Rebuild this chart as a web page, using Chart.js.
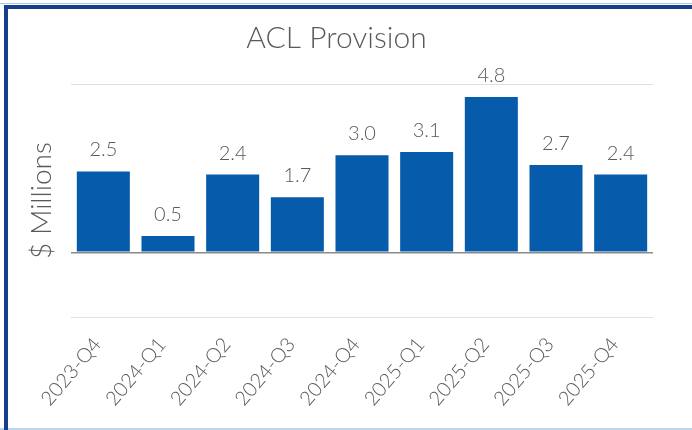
<!DOCTYPE html>
<html>
<head>
<meta charset="utf-8">
<title>ACL Provision</title>
<script src="https://cdn.jsdelivr.net/npm/chart.js@4.4.1/dist/chart.umd.min.js"></script>
<style>
  html, body { margin: 0; padding: 0; background: #fff; }
  #wrap { position: relative; width: 692px; height: 430px; overflow: hidden; }
  /* light outer edge plus the navy frame on the left and top */
  #edge { position: absolute; left: 0; top: 3px; width: 692px; height: 424px;
          border-top: 1px solid #a9cbe9; border-bottom: 2px solid #b8d6ee; }
  #frame { position: absolute; left: 4px; top: 5px; width: 700px; height: 440px;
           border-left: 4px solid #153f8c; border-top: 4px solid #153f8c; }
  canvas { position: absolute; left: 0; top: 0; }
</style>
</head>
<body>
<div id="wrap">
  <div id="edge"></div>
  <div id="frame"></div>
  <canvas id="aclChart" width="692" height="430"></canvas>
</div>
<script>
// Quarterly ACL provision, $ millions
const quarters = ['2023-Q4', '2024-Q1', '2024-Q2', '2024-Q3', '2024-Q4', '2025-Q1', '2025-Q2', '2025-Q3', '2025-Q4'];
const provision = [2.5, 0.5, 2.4, 1.7, 3.0, 3.1, 4.8, 2.7, 2.4];
// horizontal rules: bottom of range, zero line, top of range
const gridValues = [-2, 0, 5.2];

const textGray = '#5a5a5a';
const barBlue = '#065cab';
const family = 'Lato, "Open Sans", sans-serif';

// writes each bar's value above it
const valueLabels = {
    id: 'valueLabels',
    afterDatasetsDraw(chart) {
        const ctx = chart.ctx;
        const meta = chart.getDatasetMeta(0);
        ctx.save();
        ctx.font = '300 20px ' + family;
        ctx.fillStyle = textGray;
        ctx.textAlign = 'center';
        ctx.textBaseline = 'alphabetic';
        meta.data.forEach((bar, i) => {
            ctx.fillText(provision[i].toFixed(1), bar.x, bar.y - 15);
        });
        ctx.restore();
    }
};

new Chart(document.getElementById('aclChart'), {
    type: 'bar',
    data: {
        labels: quarters,
        datasets: [{
            data: provision,
            backgroundColor: barBlue,
            borderWidth: 0,
            categoryPercentage: 1,
            barPercentage: 0.82
        }]
    },
    options: {
        responsive: false,
        animation: false,
        layout: { padding: { left: 20, right: 39, top: 0, bottom: 0 } },
        plugins: {
            legend: { display: false },
            tooltip: { enabled: false },
            title: {
                display: true,
                text: 'ACL Provision',
                color: textGray,
                font: { family: family, size: 30, weight: 300 },
                padding: { top: 20, bottom: 28 }
            }
        },
        scales: {
            x: {
                grid: { display: false, drawTicks: false },
                border: { display: false },
                ticks: {
                    color: textGray,
                    font: { family: family, size: 20, weight: 300 },
                    minRotation: 50,
                    maxRotation: 50,
                    autoSkip: false,
                    padding: 16,
                    labelOffset: -6
                },
                afterFit(scale) { scale.height = 113; }
            },
            y: {
                min: -2,
                max: 5.2,
                afterBuildTicks(scale) {
                    scale.ticks = gridValues.map(v => ({ value: v }));
                },
                grid: {
                    drawTicks: false,
                    color: ctx => ctx.tick && ctx.tick.value === 0 ? '#8a8a8a' : '#e0e0e0',
                    lineWidth: ctx => ctx.tick && ctx.tick.value === 0 ? 1.5 : 1
                },
                border: { display: false },
                ticks: { display: false },
                title: {
                    display: true,
                    text: '$ Millions',
                    color: textGray,
                    font: { family: family, size: 28, weight: 300 },
                    padding: { top: 5, bottom: 0 }
                },
                afterFit(scale) { scale.width = 51; }
            }
        }
    },
    plugins: [valueLabels]
});
</script>
</body>
</html>
